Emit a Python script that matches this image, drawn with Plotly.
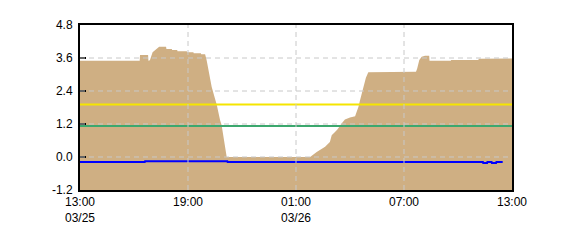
import plotly.graph_objects as go

# Area series (stage) - times and values
area_times = [
    "2024-03-25 13:00", "2024-03-25 16:19", "2024-03-25 16:20", "2024-03-25 16:47",
    "2024-03-25 16:48", "2024-03-25 16:53", "2024-03-25 17:02", "2024-03-25 17:16",
    "2024-03-25 17:24", "2024-03-25 17:47", "2024-03-25 17:48", "2024-03-25 18:06",
    "2024-03-25 18:07", "2024-03-25 18:24", "2024-03-25 18:25", "2024-03-25 18:56",
    "2024-03-25 18:57", "2024-03-25 19:18", "2024-03-25 19:19", "2024-03-25 19:43",
    "2024-03-25 19:44", "2024-03-25 19:57", "2024-03-25 20:02", "2024-03-25 20:19",
    "2024-03-25 20:36", "2024-03-25 20:47", "2024-03-25 20:52", "2024-03-25 21:09",
    "2024-03-26 01:47", "2024-03-26 02:09", "2024-03-26 02:37", "2024-03-26 02:53",
    "2024-03-26 02:59", "2024-03-26 03:10", "2024-03-26 03:18", "2024-03-26 03:32",
    "2024-03-26 03:43", "2024-03-26 04:00", "2024-03-26 04:17", "2024-03-26 04:22",
    "2024-03-26 04:28", "2024-03-26 04:33", "2024-03-26 04:39", "2024-03-26 04:47",
    "2024-03-26 04:53", "2024-03-26 05:01", "2024-03-26 07:40", "2024-03-26 07:44",
    "2024-03-26 07:51", "2024-03-26 07:59", "2024-03-26 08:10", "2024-03-26 08:24",
    "2024-03-26 08:25", "2024-03-26 09:36", "2024-03-26 09:37", "2024-03-26 11:08",
    "2024-03-26 11:09", "2024-03-26 13:00",
]
area_values = [
    3.50, 3.50, 3.71, 3.71,
    3.50, 3.52, 3.81, 3.96,
    4.01, 4.01, 3.93, 3.93,
    3.89, 3.89, 3.85, 3.85,
    3.81, 3.81, 3.77, 3.77,
    3.74, 3.74, 3.53, 2.55,
    1.89, 1.34, 1.16, 0.00,
    0.00, 0.18, 0.37, 0.55,
    0.79, 0.91, 1.00, 1.22,
    1.36, 1.44, 1.48, 1.64,
    1.82, 2.05, 2.31, 2.68,
    2.88, 3.08, 3.10, 3.22,
    3.53, 3.65, 3.68, 3.68,
    3.50, 3.50, 3.53, 3.53,
    3.57, 3.58,
]

# Blue series
blue_times = [
    "2024-03-25 13:00", "2024-03-25 16:36", "2024-03-25 16:37", "2024-03-25 21:11",
    "2024-03-25 21:12", "2024-03-26 11:23", "2024-03-26 11:24", "2024-03-26 11:37",
    "2024-03-26 11:38", "2024-03-26 11:52", "2024-03-26 11:53", "2024-03-26 12:07",
    "2024-03-26 12:08", "2024-03-26 12:29",
]
blue_values = [
    -0.18, -0.18, -0.15, -0.15,
    -0.18, -0.18, -0.22, -0.22,
    -0.18, -0.18, -0.22, -0.22,
    -0.18, -0.18,
]

# Threshold lines
yellow_level = 1.91
green_level = 1.13

x_start = "2024-03-25 13:00"
x_end = "2024-03-26 13:00"
y_min, y_max = -1.2, 4.8

x_tickvals = ["2024-03-25 13:00", "2024-03-25 19:00", "2024-03-26 01:00",
              "2024-03-26 07:00", "2024-03-26 13:00"]
x_ticktext = ["13:00<br>03/25", "19:00", "01:00<br>03/26", "07:00", "13:00"]
y_tickvals = [-1.2, 0.0, 1.2, 2.4, 3.6, 4.8]
y_ticktext = ["-1.2", "0.0", "1.2", "2.4", "3.6", "4.8"]

fig = go.Figure()

# baseline for area fill
fig.add_trace(go.Scatter(x=[x_start, x_end], y=[y_min, y_min], mode="lines",
                         line=dict(width=0, color="rgba(0,0,0,0)"),
                         showlegend=False, hoverinfo="skip"))
fig.add_trace(go.Scatter(x=area_times, y=area_values, mode="lines",
                         line=dict(width=0, color="#CFAF83"),
                         fill="tonexty", fillcolor="#CFAF83", showlegend=False))
fig.add_trace(go.Scatter(x=[x_start, x_end], y=[yellow_level, yellow_level], mode="lines",
                         line=dict(width=2, color="#F5E500"), showlegend=False))
fig.add_trace(go.Scatter(x=[x_start, x_end], y=[green_level, green_level], mode="lines",
                         line=dict(width=2, color="#3CA86E"), showlegend=False))
fig.add_trace(go.Scatter(x=blue_times, y=blue_values, mode="lines",
                         line=dict(width=2, color="#0000FF", shape="linear"), showlegend=False))

grid_style = dict(color="#C8C8C8", width=1, dash="5px,4px")
for v in y_tickvals[1:-1]:
    fig.add_shape(type="line", xref="paper", x0=0, x1=1, yref="y", y0=v, y1=v,
                  line=grid_style, layer="above")
for v in x_tickvals[1:-1]:
    fig.add_shape(type="line", xref="x", x0=v, x1=v, yref="paper", y0=0, y1=1,
                  line=grid_style, layer="above")

font = dict(family="Liberation Sans, Arial, sans-serif", size=12, color="#000000")

fig.update_layout(
    width=570, height=250,
    margin=dict(l=80, r=58, t=25, b=60),
    paper_bgcolor="white", plot_bgcolor="white",
    font=font,
    showlegend=False,
)
fig.update_xaxes(
    range=[x_start, x_end], tickvals=x_tickvals, ticktext=x_ticktext,
    showgrid=False, zeroline=False, showline=True, linewidth=2, linecolor="black",
    mirror=True, ticks="", tickfont=font, layer="above traces", ticklabelstandoff=0,
)
fig.update_yaxes(
    range=[y_min, y_max], tickvals=y_tickvals, ticktext=y_ticktext,
    showgrid=False, zeroline=False, showline=True, linewidth=2, linecolor="black",
    mirror=True, ticks="inside", ticklen=6, tickwidth=2, tickcolor="black",
    tickfont=font, layer="above traces", ticklabelstandoff=3,
)

fig.write_html("out.html")
